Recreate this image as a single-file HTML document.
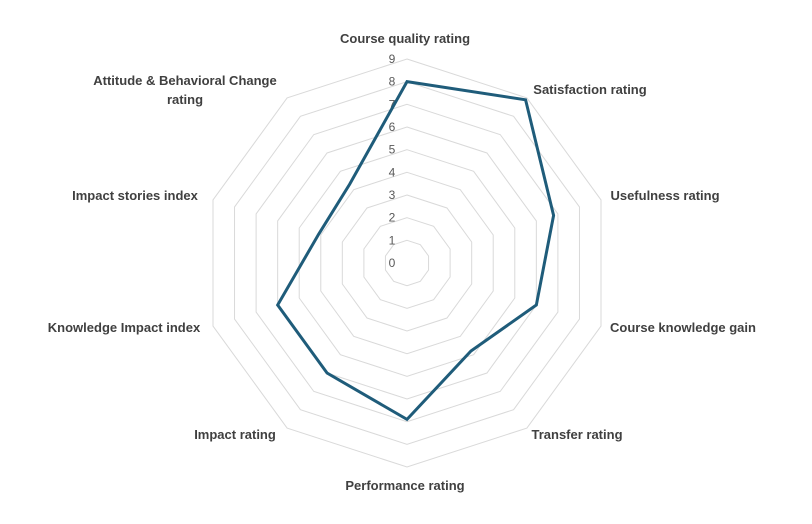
<!DOCTYPE html>
<html><head><meta charset="utf-8"><style>
body{margin:0;background:#fff;}
svg{display:block;font-family:"Liberation Sans",sans-serif;}
.lbl{font-size:13px;font-weight:bold;fill:#404040;}
.tick{font-size:12px;fill:#595959;}
</style></head><body>
<svg id="chart" width="812" height="524"></svg>
<script>
const categories=["Course quality rating","Satisfaction rating","Usefulness rating","Course knowledge gain","Transfer rating","Performance rating","Impact rating","Knowledge Impact index","Impact stories index","Attitude & Behavioral Change rating"];
const values=[8,8.9,6.8,6,4.8,6.9,6,6,4.1,4.3];
const tickLabels=[0,1,2,3,4,5,6,7,8,9];
const labelPos=[[405,43,"middle"],[590,94,"middle"],[665,200,"middle"],[683,332,"middle"],[577,439,"middle"],[405,490,"middle"],[235,439,"middle"],[124,332,"middle"],[135,200,"middle"]];
const svg=document.getElementById('chart');
const NS="http://www.w3.org/2000/svg";
const cx=407,cy=263,rmax=204,vmax=9;
function rScale(v){return v/vmax*rmax;}
function pt(i,v){const a=-Math.PI/2+i*2*Math.PI/categories.length;const r=rScale(v);return [cx+r*Math.cos(a),cy+r*Math.sin(a)];}
for(let k=1;k<tickLabels.length;k++){
 const p=document.createElementNS(NS,'polygon');
 
 
 p.setAttribute('points',categories.map((c,i)=>pt(i,tickLabels[k]).join(',')).join(' '));
 p.setAttribute('fill','none');p.setAttribute('stroke','#d9d9d9');p.setAttribute('stroke-width','1');
 svg.appendChild(p);
}
tickLabels.forEach(t=>{
 const tx=document.createElementNS(NS,'text');
 
 
 tx.setAttribute('class','tick');tx.setAttribute('x',cx-15);tx.setAttribute('y',cy-rScale(t)+4);tx.setAttribute('text-anchor','middle');
 tx.textContent=t;svg.appendChild(tx);
});
const line=document.createElementNS(NS,'polygon');


line.setAttribute('points',values.map((v,i)=>pt(i,v).join(',')).join(' '));
line.setAttribute('fill','none');line.setAttribute('stroke','#1f5c7a');line.setAttribute('stroke-width','3');line.setAttribute('stroke-linejoin','miter');
svg.appendChild(line);
categories.forEach((c,i)=>{
 const t=document.createElementNS(NS,'text');
 
 
 t.setAttribute('class','lbl');
 if(i<9){t.setAttribute('x',labelPos[i][0]);t.setAttribute('y',labelPos[i][1]);t.setAttribute('text-anchor',labelPos[i][2]);t.textContent=c;}
 else{t.setAttribute('text-anchor','middle');
  const s1=document.createElementNS(NS,'tspan');s1.setAttribute('x',185);s1.setAttribute('y',85);s1.textContent="Attitude & Behavioral Change";
  const s2=document.createElementNS(NS,'tspan');s2.setAttribute('x',185);s2.setAttribute('y',104);s2.textContent="rating";
  t.appendChild(s1);t.appendChild(s2);}
 svg.appendChild(t);
});
</script>
</body></html>
